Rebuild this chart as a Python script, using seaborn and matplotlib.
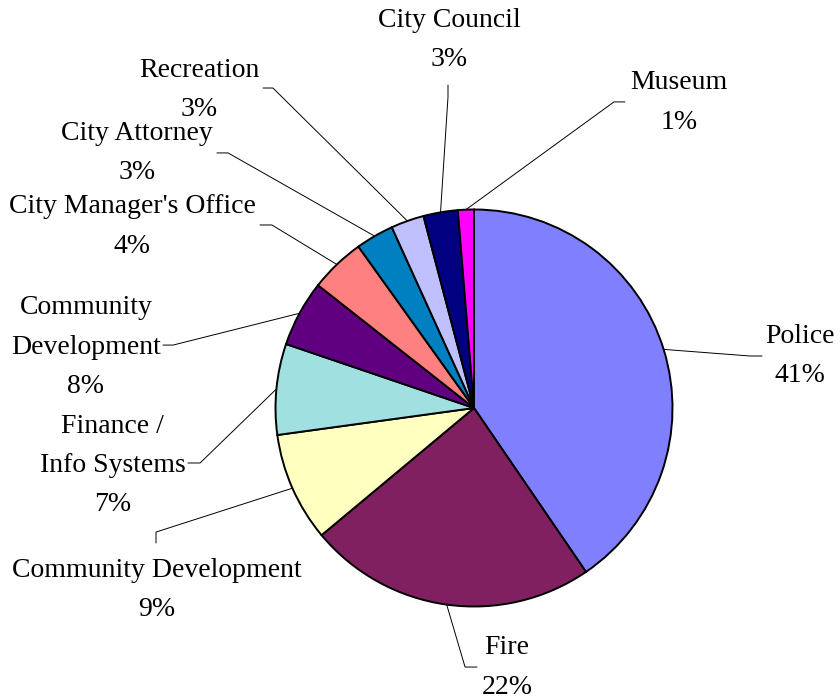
import numpy as np
import matplotlib
matplotlib.use("Agg")
import matplotlib.pyplot as plt
import seaborn as sns

# Departments, clockwise from 12 o'clock
departments = ["Police", "Fire", "Community Development", "Finance /\nInfo Systems",
               "Community\nDevelopment", "City Manager's Office", "City Attorney",
               "Recreation", "City Council", "Museum"]
# slice sizes (percent of total)
shares = [40.5, 23.5, 8.9, 7.4, 5.4, 4.5, 3.1, 2.7, 2.8, 1.3]
# percentage labels as printed on the chart
pct_labels = ["41%", "22%", "9%", "7%", "8%", "4%", "3%", "3%", "3%", "1%"]

colors = ["#8080FF", "#802060", "#FFFFC0", "#A0E0E0", "#600080",
          "#FF8080", "#0080C0", "#C0C0FF", "#000080", "#FF00FF"]

# label layout (pie radius = 1): elbow of leader, end of leader, text centre
elbows = [(1.390, 0.262), (-0.045, -1.305), (-1.602, -0.625), (-1.380, -0.277),
          (-1.516, 0.317), (-1.018, 0.922), (-1.239, 1.285), (-1.013, 1.612),
          (-0.131, 1.567), (0.705, 1.542)]
ends = [(1.451, 0.262), (0.015, -1.305), (-1.602, -0.680), (-1.441, -0.277),
        (-1.567, 0.317), (-1.078, 0.922), (-1.295, 1.285), (-1.063, 1.612),
        (-0.131, 1.627), (0.760, 1.542)]
text_pos = [(1.642, 0.262), (0.166, -1.307), (-1.597, -0.917), (-1.819, -0.290),
            (-1.955, 0.307), (-1.723, 0.914), (-1.698, 1.285), (-1.385, 1.602),
            (-0.126, 1.854), (1.033, 1.539)]

sns.set_style("white")
plt.rcParams["font.family"] = ["Liberation Serif", "DejaVu Serif"]

fig = plt.figure(figsize=(8.4, 7), dpi=100)
ax = fig.add_axes([0, 0, 1, 1])

wedges, _ = ax.pie(shares, colors=colors, startangle=90, counterclock=False,
                   radius=1.0, wedgeprops=dict(edgecolor="black", linewidth=1.4))

for w, el, en, tp, name, pct in zip(wedges, elbows, ends, text_pos, departments, pct_labels):
    mid = np.deg2rad((w.theta1 + w.theta2) / 2)
    sx, sy = np.cos(mid), np.sin(mid)
    ax.plot([sx, el[0], en[0]], [sy, el[1], en[1]], color="black", lw=0.7)
    ax.text(tp[0], tp[1], f"{name}\n{pct}", ha="center", va="center",
            fontsize=20, linespacing=1.75, color="black")

scale = 198.5
cx, cy = 474, 408
ax.set_xlim(-cx / scale, (840 - cx) / scale)
ax.set_ylim(-(700 - cy) / scale, cy / scale)
ax.set_aspect("auto")
ax.axis("off")

fig.savefig("out.png", dpi=100, facecolor="white")
